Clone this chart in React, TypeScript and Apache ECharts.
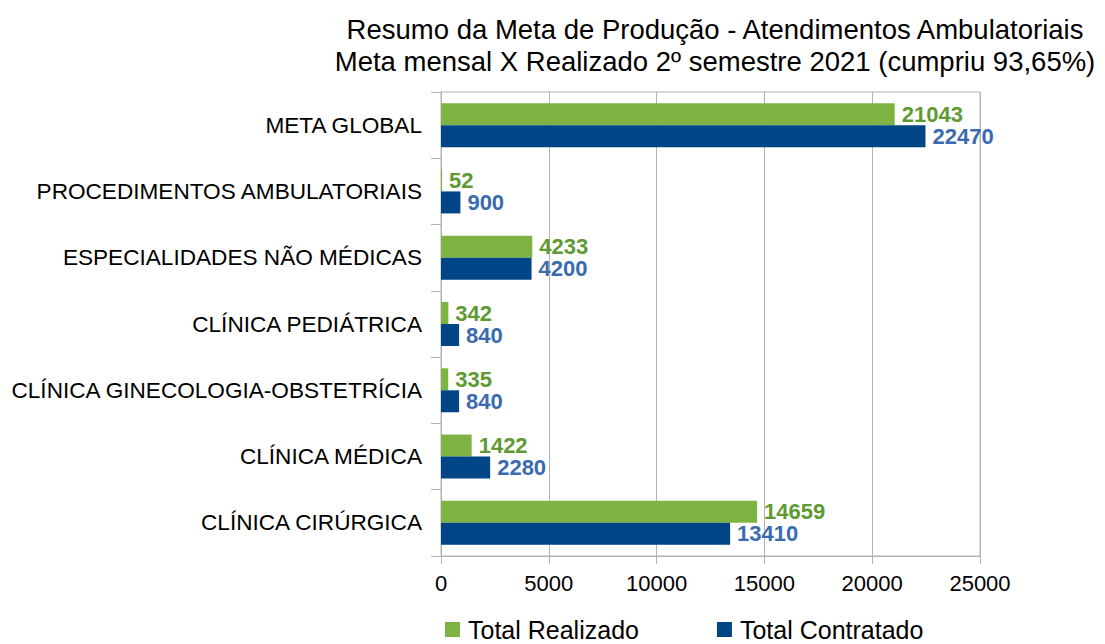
import React, { useEffect, useRef } from "react";
import * as echarts from "echarts";

const categories = [
  "META GLOBAL",
  "PROCEDIMENTOS AMBULATORIAIS",
  "ESPECIALIDADES NÃO MÉDICAS",
  "CLÍNICA PEDIÁTRICA",
  "CLÍNICA GINECOLOGIA-OBSTETRÍCIA",
  "CLÍNICA MÉDICA",
  "CLÍNICA CIRÚRGICA",
];
const realizado = [21043, 52, 4233, 342, 335, 1422, 14659];
const contratado = [22470, 900, 4200, 840, 840, 2280, 13410];
const seriesNames = ["Total Realizado", "Total Contratado"];
const titleLines = [
  "Resumo da Meta de Produção - Atendimentos Ambulatoriais",
  "Meta mensal X Realizado 2º semestre 2021 (cumpriu 93,65%)",
];
const xTicks = { min: 0, max: 25000, interval: 5000 };

const FONT = "'Liberation Sans', Arial, sans-serif";
const GREEN = "#7eb344";
const BLUE = "#004586";
const GREEN_LABEL = "#5e9a31";
const BLUE_LABEL = "#3a6bb0";
const GRID = "#b3b3b3";

export default function App() {
  const ref = useRef<HTMLDivElement>(null);
  useEffect(() => {
    if (!ref.current) return;
    const chart = echarts.init(ref.current, null, { renderer: "svg" });
    const dataLabel = (color: string) => ({
      show: true,
      position: "right",
      distance: 7,
      color,
      fontSize: 22,
      lineHeight: 20,
      fontWeight: "bold",
      fontFamily: FONT,
    });
    chart.setOption({
      animation: false,
      textStyle: { fontFamily: FONT },
      graphic: [
        {
          type: "text",
          x: 715,
          y: 29,
          style: {
            text: titleLines[0],
            font: `27.5px ${FONT}`,
            fill: "#000",
            textAlign: "center",
            textVerticalAlign: "middle",
          },
        },
        {
          type: "text",
          x: 715,
          y: 61,
          style: {
            text: titleLines[1],
            font: `27.5px ${FONT}`,
            fill: "#000",
            textAlign: "center",
            textVerticalAlign: "middle",
          },
        },
      ],
      legend: {
        data: seriesNames,
        left: 445,
        top: 617,
        icon: "rect",
        itemWidth: 15,
        itemHeight: 15,
        itemGap: 78,
        padding: 0,
        textStyle: {
          fontSize: 25,
          lineHeight: 22,
          fontFamily: FONT,
          color: "#000",
          padding: [0, 0, 0, 3],
        },
      },
      grid: {
        left: 441,
        right: 125,
        top: 92,
        bottom: 88,
        show: true,
        borderColor: GRID,
        borderWidth: 1,
      },
      xAxis: {
        type: "value",
        min: xTicks.min,
        max: xTicks.max,
        interval: xTicks.interval,
        axisLine: { show: true, lineStyle: { color: GRID } },
        axisTick: { show: true, length: 8, lineStyle: { color: GRID } },
        splitLine: { show: true, lineStyle: { color: GRID, width: 1 } },
        axisLabel: {
          fontSize: 22,
          color: "#000",
          margin: 16,
          fontFamily: FONT,
          formatter: (v: number) => String(v),
        },
      },
      yAxis: {
        type: "category",
        data: categories,
        inverse: true,
        axisLine: { show: true, lineStyle: { color: GRID } },
        axisTick: { show: true, length: 10, lineStyle: { color: GRID } },
        axisLabel: { fontSize: 22.6, color: "#000", margin: 19, fontFamily: FONT },
      },
      series: [
        {
          name: seriesNames[0],
          type: "bar",
          data: realizado,
          barWidth: 22,
          barGap: "0%",
          itemStyle: { color: GREEN },
          label: dataLabel(GREEN_LABEL),
        },
        {
          name: seriesNames[1],
          type: "bar",
          data: contratado,
          barWidth: 22,
          barGap: "0%",
          itemStyle: { color: BLUE },
          label: dataLabel(BLUE_LABEL),
        },
      ],
    });
    return () => chart.dispose();
  }, []);
  return (
    <div
      ref={ref}
      style={{ position: "absolute", left: 0, top: 0, width: 1105, height: 644 }}
    />
  );
}
